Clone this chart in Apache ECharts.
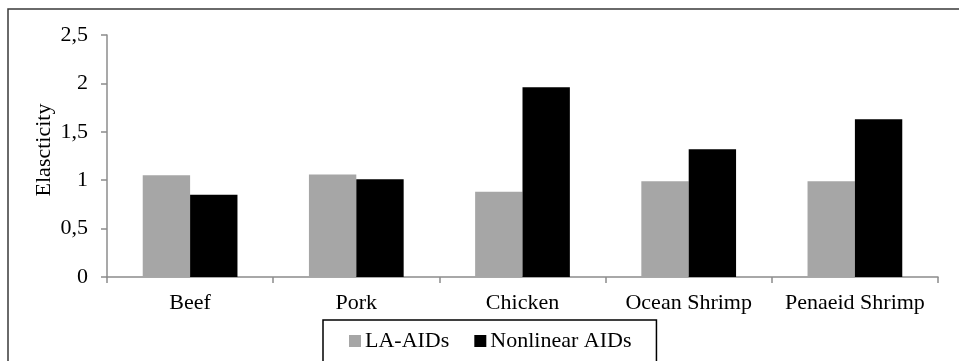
<!DOCTYPE html>
<html>
<head>
<meta charset="utf-8">
<script src="https://cdn.jsdelivr.net/npm/echarts@6/dist/echarts.min.js"></script>
<style>
  html, body { margin: 0; padding: 0; background: #fff; }
  #chart { width: 959px; height: 361px; }
</style>
</head>
<body>
<div id="chart"></div>
<script>
// Product groups on the horizontal axis
const categories = ['Beef', 'Pork', 'Chicken', 'Ocean Shrimp', 'Penaeid Shrimp'];
// Elasticity estimates for each model
const laAids = [1.05, 1.06, 0.88, 0.99, 0.99];
const nonlinearAids = [0.85, 1.01, 1.96, 1.32, 1.63];
// Value axis ticks
const yTicks = [0, 0.5, 1, 1.5, 2, 2.5];

const font = '"Liberation Serif", "Times New Roman", serif';
const fontSize = 22;
const axisGray = '#8c8c8c';

const chart = echarts.init(document.getElementById('chart'));
chart.setOption({
  animation: false,
  backgroundColor: '#ffffff',
  textStyle: { fontFamily: font, color: '#000' },
  graphic: [{
    type: 'rect',
    shape: { x: 8, y: 9, width: 1000, height: 400 },
    style: { fill: 'none', stroke: '#3a3a3a', lineWidth: 1.5 },
    silent: true
  }],
  grid: { left: 107, right: 21, top: 35, bottom: 84, containLabel: false },
  legend: {
    left: 323,
    top: 320,
    padding: [10, 25, 40, 26],
    borderColor: '#000',
    borderWidth: 1.5,
    itemWidth: 12,
    itemHeight: 12,
    itemGap: 25,
    icon: 'rect',
    textStyle: { fontFamily: font, fontSize: fontSize, color: '#000', padding: [0, 0, 0, -1] },
    data: ['LA-AIDs', 'Nonlinear AIDs']
  },
  xAxis: {
    type: 'category',
    data: categories,
    axisLine: { lineStyle: { color: axisGray, width: 1.5 } },
    axisTick: { show: true, interval: 0, length: 6, lineStyle: { color: axisGray, width: 1.5 } },
    axisLabel: { interval: 0, hideOverlap: false, fontFamily: font, fontSize: fontSize, color: '#000', margin: 15 }
  },
  yAxis: {
    type: 'value',
    min: yTicks[0],
    max: yTicks[yTicks.length - 1],
    interval: yTicks[1] - yTicks[0],
    name: 'Elascticity',
    nameLocation: 'middle',
    nameGap: 52,
    nameRotate: 90,
    nameMoveOverlap: false,
    nameTextStyle: { fontFamily: font, fontSize: fontSize, color: '#000', padding: [0, 0, 0, 12] },
    splitLine: { show: false },
    axisLine: { show: true, lineStyle: { color: axisGray, width: 1.5 } },
    axisTick: { show: true, length: 6, lineStyle: { color: axisGray, width: 1.5 } },
    axisLabel: {
      fontFamily: font, fontSize: fontSize, color: '#000', margin: 19,
      formatter: v => String(v).replace('.', ',')
    }
  },
  series: [
    {
      name: 'LA-AIDs',
      type: 'bar',
      data: laAids,
      barGap: '0%',
      barCategoryGap: '43%',
      itemStyle: { color: '#a6a6a6' }
    },
    {
      name: 'Nonlinear AIDs',
      type: 'bar',
      data: nonlinearAids,
      barGap: '0%',
      barCategoryGap: '43%',
      itemStyle: { color: '#000000' }
    }
  ]
});
</script>
</body>
</html>
